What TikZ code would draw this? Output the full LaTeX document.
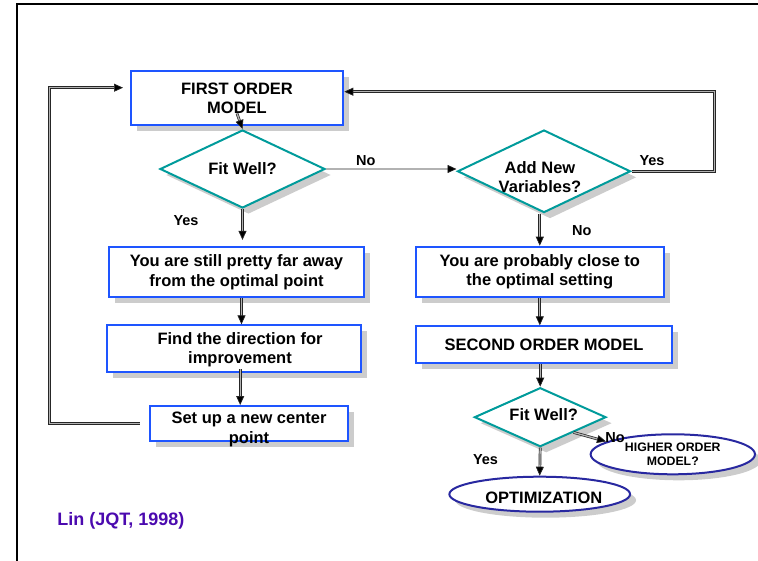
\documentclass[tikz,border=0pt]{standalone}
\usepackage{fontspec}
\setmainfont{Liberation Sans}
\usetikzlibrary{shapes.geometric,arrows.meta,shadows}
\definecolor{boxblue}{RGB}{30,85,255}
\definecolor{diateal}{RGB}{0,155,155}
\definecolor{ellnavy}{RGB}{40,40,160}
\definecolor{citepurple}{RGB}{75,10,175}
\begin{document}
\begin{tikzpicture}[x=1pt,y=-1pt,
  shadowed/.style={drop shadow={shadow xshift=6pt,shadow yshift=-6pt,fill=gray!40,opacity=1}},
  mainfont/.style={font=\fontsize{16.5}{19.3}\selectfont\bfseries},
  box/.style={draw=boxblue,line width=2pt,fill=white,shadowed,inner sep=0pt,align=center,mainfont},
  dia/.style={diamond,aspect=2.2,draw=diateal,line width=2pt,fill=white,shadowed,inner sep=0pt,align=center,mainfont},
  ell/.style={ellipse,draw=ellnavy,line width=2pt,fill=white,shadowed,inner sep=0pt,align=center},
  lbl/.style={font=\fontsize{14.5}{17}\selectfont\bfseries,inner sep=0pt},
  arr/.style={draw=black!85,line width=0.7pt,double=gray!60,double distance=1.3pt,
    -{Triangle[length=9pt,width=8pt,fill=black]}}
]
\useasboundingbox (0,0) rectangle (758,561);
% frame
\draw[line width=2.3pt] (16.7,561) -- (16.7,4.3) -- (758,4.3);

% nodes
\node[box,minimum width=212.6pt,minimum height=54.3pt] (first) at (237,98.3) {FIRST ORDER\\MODEL};
\node[dia,minimum width=165pt,minimum height=78pt] (fit1) at (242.5,169) {Fit Well?};
\node[dia,minimum width=173pt,minimum height=82.6pt] (add) at (544,171.3) {};
\node[mainfont,align=center,inner sep=0pt] (addtext) at (540,177) {Add New\\Variables?};
\node[box,minimum width=255.6pt,minimum height=50.6pt] (far) at (236.5,272.2) {You are still pretty far away\\from the optimal point};
\node[box,minimum width=253.7pt,minimum height=46.7pt] (dir) at (234.2,348.7) {};
\node[mainfont,align=center,inner sep=0pt] (dirtext) at (240,350) {Find the direction for\\improvement};
\node[box,minimum width=197.4pt,minimum height=35.3pt] (setup) at (249,423.7) {};
\node[mainfont,align=center,inner sep=0pt] (setuptext) at (249,429.5) {Set up a new center\\point};
\node[box,minimum width=247.7pt,minimum height=50.6pt] (close) at (539.8,272) {You are probably close to\\the optimal setting};
\node[box,minimum width=256pt,minimum height=36.7pt] (second) at (544,344.7) {SECOND ORDER MODEL};
\node[dia,minimum width=131.6pt,minimum height=59pt] (fit2) at (540.2,417.2) {};
\node[mainfont,inner sep=0pt] (fit2text) at (543.7,415) {Fit Well?};
\node[ell,minimum width=164.3pt,minimum height=40pt,font=\fontsize{12.3}{14.6}\selectfont\bfseries] (higher) at (672.8,454.3) {HIGHER ORDER\\MODEL?};
\node[ell,minimum width=180.7pt,minimum height=35pt,mainfont] (opt) at (539.7,494.2) {};
\node[mainfont,inner sep=0pt] (opttext) at (543.8,497.5) {OPTIMIZATION};
\node[font=\fontsize{18}{21}\selectfont\bfseries,text=citepurple,inner sep=0pt] (cite) at (120.8,520.7) {Lin (JQT, 1998)};

% coordinates for bends
\coordinate (yesR) at (714.3,171.3);
\coordinate (loopL) at (49.3,423.7);

% connectors
\draw[arr] ([yshift=13pt]first.south) -- (fit1.north);
\draw[arr] (fit1.east) -- (add.west |- fit1.east);
\draw[arr] (add.east) -- (yesR) |- ([yshift=6.6pt]first.east);
\draw[arr,shorten >=6pt] (fit1.south) -- (fit1.south |- far.north);
\draw[arr] ([xshift=5pt]far.south) -- ([xshift=5pt]far.south |- dir.north);
\draw[arr] ([xshift=6pt,yshift=4pt]dir.south) -- ([xshift=6pt]dir.south |- setup.north);
\draw[arr] ([xshift=-9.6pt]setup.west) -- (loopL) |- ([xshift=-6.7pt,yshift=10.6pt]first.west);
\draw[arr] (close.north |- add.south) -- (close.north);
\draw[arr] (close.south) -- (close.south |- second.north);
\draw[arr] (fit2.north |- second.south) -- (fit2.north);
\draw[arr] (fit2.south) -- (opt.north);
\draw[arr] (fit2.south east) -- ([xshift=-8pt,yshift=-2pt]higher.north west);

% labels
\node[lbl] (l1) at (365.7,161) {No};
\node[lbl] (l2) at (652,161) {Yes};
\node[lbl] (l3) at (186,221) {Yes};
\node[lbl] (l4) at (581.8,231) {No};
\node[lbl] (l5) at (615,437.3) {No};
\node[lbl] (l6) at (485.5,460) {Yes};
\end{tikzpicture}
\end{document}
